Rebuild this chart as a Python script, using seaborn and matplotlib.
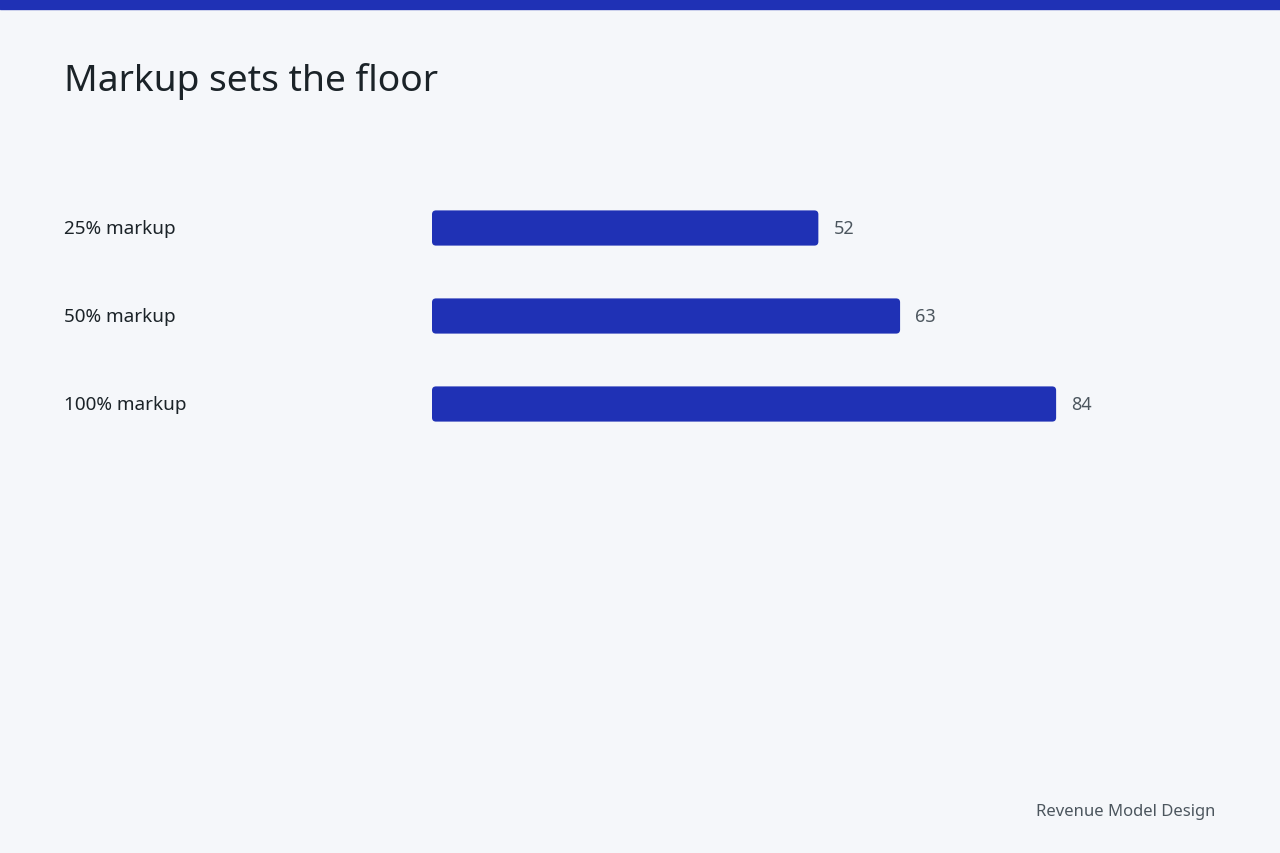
import matplotlib
matplotlib.use('Agg')
import matplotlib.pyplot as plt
import matplotlib.transforms as mtransforms
from matplotlib.patches import FancyBboxPatch, Rectangle
import pandas as pd
import seaborn as sns

# 데이터
labels = ['25% markup', '50% markup', '100% markup']
values = [52, 63, 84]

title = 'Markup sets the floor'
footer = 'Revenue Model Design'

bg = '#f5f7fa'
bar_color = '#1f31b5'
text_dark = '#1b2328'
text_grey = '#4c565e'

sns.set_theme(style='white')
plt.rcParams['font.family'] = ['Noto Sans', 'DejaVu Sans']

W, H = 1280, 854
fig = plt.figure(figsize=(W / 100, H / 100), dpi=100, facecolor=bg)

# 상단 띠
fig.patches.append(Rectangle((0, 1 - 10 / H), 1, 10 / H, transform=fig.transFigure,
                             color=bar_color, zorder=0))

# 축 위치 (픽셀 기준)
left, right = 432, 432 + 743
top, bottom = 185, 449
ax = fig.add_axes([left / W, 1 - bottom / H, (right - left) / W, (bottom - top) / H])
ax.set_facecolor(bg)

df = pd.DataFrame({'label': labels, 'value': values})
sns.barplot(data=df, x='value', y='label', color=bar_color, width=0.4,
            saturation=1, ax=ax, orient='h')
ax.set_xlim(0, 100)
ax.set_ylim(2.5, -0.5)

# 둥근 막대로 교체
px_x = (right - left) / 100
px_y = (bottom - top) / 3
r = 4
for p in list(ax.patches):
    x0, y0, w, h = p.get_x(), p.get_y(), p.get_width(), p.get_height()
    p.remove()
    ax.add_patch(FancyBboxPatch((x0, y0), w, h,
                                boxstyle=f'round,pad=0,rounding_size={r / px_x}',
                                mutation_aspect=px_x / px_y,
                                fc=bar_color, ec='none'))

for s in ax.spines.values():
    s.set_visible(False)
ax.set_xticks([])
ax.set_yticks([])
ax.set_xlabel('')
ax.set_ylabel('')

# 라벨
trans = mtransforms.blended_transform_factory(fig.transFigure, ax.transData)
off = mtransforms.offset_copy(ax.transData, fig=fig, x=15, y=0, units='dots')
for i, (lab, v) in enumerate(zip(labels, values)):
    ax.text(64 / W, i, lab, transform=trans, ha='left', va='center',
            fontsize=13.6, color=text_dark)
    ax.text(v, i, str(v), transform=off, ha='left', va='center',
            fontsize=13, color=text_grey)

fig.text(64 / W, 1 - 81 / H, title, ha='left', va='center', fontsize=26.8, color=text_dark)
fig.text(1215 / W, 1 - 812 / H, footer, ha='right', va='center', fontsize=12, color=text_grey)

fig.savefig('out.png', dpi=100, facecolor=bg)
